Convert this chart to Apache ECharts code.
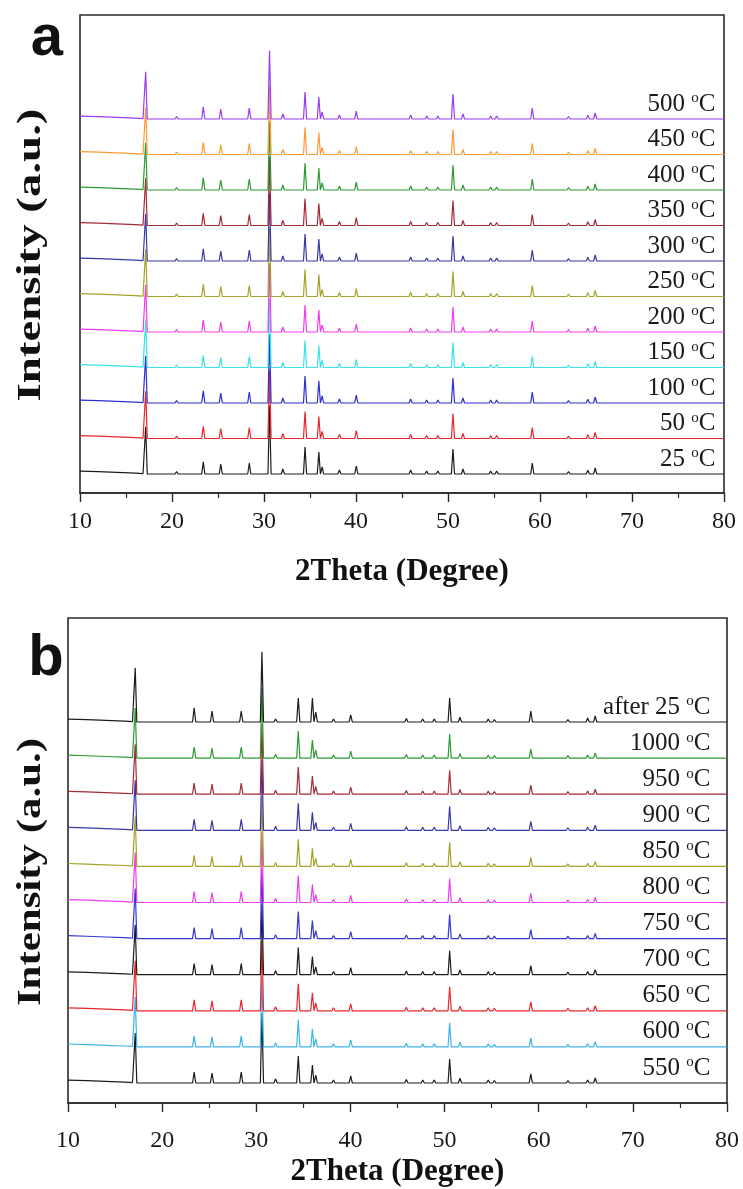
<!DOCTYPE html>
<html><head><meta charset="utf-8">
<script src="https://cdn.jsdelivr.net/npm/echarts@6/dist/echarts.min.js"></script>
<style>html,body{margin:0;padding:0;background:#fff}#c{width:743px;height:1189px}</style>
</head><body><div id="c"></div>
<script>
// ---- data ----
const xTicks = [10, 20, 30, 40, 50, 60, 70, 80];
const peakPos = [17.14, 20.5, 23.4, 25.3, 28.4, 30.6, 32.05, 34.46, 35.96, 36.32, 38.2, 40.03, 44.86, 45.94, 47.68, 48.9, 50.54, 51.63, 54.64, 55.29, 57.9, 59.16, 62.4, 63.1, 63.8, 65.2, 66.0, 66.8, 69.5, 71.6, 73.0, 75.5];
const peakA = [1330, 70, 340, 280, 310, 1920, 140, 760, 620, 200, 113, 225, 56, 113, 85, 85, 705, 140, 85, 85, 42, 310, 56, 70, 56, 110, 170, 56, 42, 42, 42, 30];
const peakB = [1385, 55, 305, 277, 305, 1940, 110, 750, 500, 220, 85, 195, 55, 100, 85, 85, 665, 130, 85, 70, 42, 250, 55, 70, 55, 85, 140, 55, 42, 42, 42, 30];
const peakAfter = [1500, 55, 390, 305, 305, 1940, 85, 665, 665, 277, 85, 195, 55, 100, 85, 85, 665, 130, 85, 70, 42, 305, 55, 70, 55, 110, 170, 55, 42, 42, 42, 30];
const bgAnchors = [[10, 80], [12, 65], [14, 45], [16, 25], [16.85, 12]];
const labelsA = ['25', '50', '100', '150', '200', '250', '300', '350', '400', '450', '500'];
const labelsB = ['550', '600', '650', '700', '750', '800', '850', '900', '950', '1000', 'after 25'];
const colorsA = ['#1c1c1c', '#e8262b', '#2f2fd0', '#37e3e8', '#ee3cee', '#a3a32b', '#3838a5', '#a32a39', '#2d9a33', '#ff9a36', '#9a3cf2'];
const colorsB = ['#1c1c1c', '#3cb4ec', '#e8262b', '#1c1c1c', '#3636d6', '#ee3cee', '#a3a32b', '#3838a5', '#a32a39', '#2d9a33', '#1c1c1c'];
const stepY = 1000;
const baseA = 535, baseB = 554;
const yMaxA = 13465, yMaxB = 13435;
const halfW = 0.17;

function buildTrace(heights, offset) {
  const pts = bgAnchors.map(([x, v]) => [x, offset + v]);
  peakPos.forEach((p, i) => {
    pts.push([p - halfW, offset]);
    pts.push([p, offset + heights[i]]);
    pts.push([p + halfW, offset]);
  });
  pts.push([80, offset]);
  return pts;
}

const rich = {
  n: { fontFamily: 'Liberation Serif', fontSize: 25, lineHeight: 26, color: '#1a1a1a' },
  s: { fontFamily: 'Liberation Serif', fontSize: 15, lineHeight: 16, verticalAlign: 'top', color: '#1a1a1a' }
};

const series = [];
labelsA.forEach((t, i) => {
  const off = baseA + i * stepY;
  series.push({
    type: 'line', xAxisIndex: 0, yAxisIndex: 0, showSymbol: false, symbol: 'none',
    data: buildTrace(peakA, off),
    lineStyle: { color: colorsA[i], width: 1.2 }, itemStyle: { color: colorsA[i] },
    markPoint: {
      symbol: 'circle', symbolSize: 1, silent: true, itemStyle: { color: 'rgba(0,0,0,0)' },
      data: [{ coord: [80, off] }],
      label: { show: true, position: 'left', distance: 8, offset: [0, -15], formatter: '{n|' + t + ' }{s|o}{n|C}', rich: rich }
    }
  });
});
labelsB.forEach((t, i) => {
  const off = baseB + i * stepY;
  series.push({
    type: 'line', xAxisIndex: 1, yAxisIndex: 1, showSymbol: false, symbol: 'none',
    data: buildTrace(i === 10 ? peakAfter : peakB, off),
    lineStyle: { color: colorsB[i], width: 1.2 }, itemStyle: { color: colorsB[i] },
    markPoint: {
      symbol: 'circle', symbolSize: 1, silent: true, itemStyle: { color: 'rgba(0,0,0,0)' },
      data: [{ coord: [80, off] }],
      label: { show: true, position: 'left', distance: 16, offset: [0, -15], formatter: '{n|' + t + ' }{s|o}{n|C}', rich: rich }
    }
  });
});

function xAxisCfg(idx, margin, gap) {
  return {
    gridIndex: idx, type: 'value', min: xTicks[0], max: xTicks[xTicks.length - 1], interval: xTicks[1] - xTicks[0],
    axisLine: { show: true, lineStyle: { color: '#2a2a2a', width: 1.6 } },
    axisTick: { show: true, inside: false, length: 9, lineStyle: { color: '#2a2a2a', width: 1.4 } },
    minorTick: { show: true, splitNumber: 2, length: 5, lineStyle: { color: '#2a2a2a', width: 1.2 } },
    splitLine: { show: false },
    axisLabel: { fontFamily: 'Liberation Serif', fontSize: 24, color: '#1a1a1a', margin: margin },
    name: '2Theta (Degree)', nameLocation: 'middle', nameGap: gap,
    nameTextStyle: { fontFamily: 'Liberation Serif', fontWeight: 'bold', fontSize: 31, color: '#111' }
  };
}

const chart = echarts.init(document.getElementById('c'), null, { renderer: 'canvas' });
chart.setOption({
  animation: false,
  backgroundColor: '#fff',
  grid: [
    { left: 80, top: 15, width: 644, height: 478, show: true, borderColor: '#2a2a2a', borderWidth: 1.6, backgroundColor: 'transparent' },
    { left: 68, top: 618, width: 659, height: 485, show: true, borderColor: '#2a2a2a', borderWidth: 1.6, backgroundColor: 'transparent' }
  ],
  xAxis: [xAxisCfg(0, 17, 63), xAxisCfg(1, 26, 53)],
  yAxis: [
    { gridIndex: 0, type: 'value', min: 0, max: yMaxA, show: false },
    { gridIndex: 1, type: 'value', min: 0, max: yMaxB, show: false }
  ],
  graphic: [
    { type: 'text', x: 47, y: 39, style: { text: 'a', font: 'bold 58px "Liberation Sans"', fill: '#111', align: 'center', verticalAlign: 'middle', textAlign: 'center', textVerticalAlign: 'middle' } },
    { type: 'text', x: 46, y: 659, style: { text: 'b', font: 'bold 58px "Liberation Sans"', fill: '#111', align: 'center', verticalAlign: 'middle', textAlign: 'center', textVerticalAlign: 'middle' } },
    { type: 'text', x: 31, y: 255, rotation: Math.PI / 2, scaleX: 1.42, style: { text: 'Intensity (a.u.)', font: 'bold 33px "Liberation Serif"', fill: '#111', align: 'center', verticalAlign: 'middle', textAlign: 'center', textVerticalAlign: 'middle' } },
    { type: 'text', x: 31, y: 872, rotation: Math.PI / 2, scaleX: 1.3, style: { text: 'Intensity (a.u.)', font: 'bold 33px "Liberation Serif"', fill: '#111', align: 'center', verticalAlign: 'middle', textAlign: 'center', textVerticalAlign: 'middle' } }
  ],
  series: series
});
</script>
</body></html>
